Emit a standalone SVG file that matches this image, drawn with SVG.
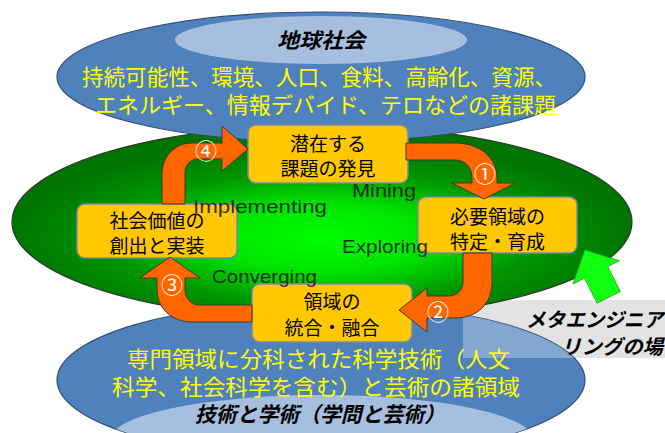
<svg xmlns="http://www.w3.org/2000/svg" width="665" height="433" viewBox="0 0 665 433">
<defs>
<radialGradient id="gg" cx="0.5" cy="0.58" r="0.5">
<stop offset="0" stop-color="#00ff00"/>
<stop offset="0.35" stop-color="#00e400"/>
<stop offset="0.68" stop-color="#009600"/>
<stop offset="1" stop-color="#007400"/>
</radialGradient>
<clipPath id="botclip"><ellipse cx="321" cy="380" rx="264" ry="78"/></clipPath>
<style>
.blue{fill:#4f81bd;stroke:#2f4f73;stroke-width:1.2}
.light{fill:#a7bfdf}
.yl{font-family:"Noto Sans CJK JP","Noto Sans",sans-serif;font-size:21.5px;fill:#ffff00;text-anchor:middle;dominant-baseline:central}
.ttl{font-family:"Noto Sans CJK JP","Noto Sans",sans-serif;font-size:21px;font-weight:bold;font-style:italic;fill:#000;text-anchor:middle;dominant-baseline:central}
.box{fill:#ffc800;stroke:#7a8aa0;stroke-width:1.5}
.bt{font-family:"Noto Sans CJK JP","Noto Sans",sans-serif;font-size:19px;fill:#000;text-anchor:middle;dominant-baseline:central}
.arr{fill:#ff6600;stroke:#3a3a3a;stroke-width:1}
.num{font-family:"Noto Sans CJK JP","DejaVu Sans",sans-serif;font-size:22px;fill:#ffffff;text-anchor:middle;dominant-baseline:central}
.lab{font-family:"Liberation Sans","Noto Sans",sans-serif;font-size:19px;fill:#1a1a1a;fill-opacity:0.9;text-anchor:start;dominant-baseline:central}
.meta{font-family:"Noto Sans CJK JP","Noto Sans",sans-serif;font-size:20px;font-weight:bold;font-style:italic;fill:#000;dominant-baseline:central}
</style>
</defs>
<rect width="665" height="433" fill="#ffffff"/>

<!-- callout background -->
<rect id="callout-bg" x="463" y="300" width="210" height="58" fill="#e3e3e3"/>

<!-- bottom ellipse -->
<g id="academia">
<ellipse class="blue" cx="321" cy="380" rx="264" ry="78"/>
<rect x="463" y="300" width="210" height="58" fill="#ffffff" fill-opacity="0.3" clip-path="url(#botclip)"/>
<ellipse class="light" cx="322" cy="440" rx="212" ry="45" clip-path="url(#botclip)"/>
<text class="yl" x="318.5" y="357" textLength="383" lengthAdjust="spacingAndGlyphs">専門領域に分科された科学技術（人文</text>
<text class="yl" x="316" y="385" textLength="408" lengthAdjust="spacingAndGlyphs">科学、社会科学を含む）と芸術の諸領域</text>
<text class="ttl" x="320" y="413" textLength="250" lengthAdjust="spacingAndGlyphs">技術と学術（学問と芸術）</text>
</g>

<!-- middle green ellipse -->
<g id="field">
<ellipse cx="322" cy="222" rx="310" ry="97" fill="url(#gg)" stroke="#2a3a2a" stroke-width="1.2"/>
</g>

<!-- top ellipse -->
<g id="society">
<ellipse class="blue" cx="321" cy="77" rx="264" ry="65"/>
<ellipse class="light" cx="321" cy="40" rx="146" ry="24"/>
<text class="ttl" x="321" y="39" textLength="88" lengthAdjust="spacingAndGlyphs">地球社会</text>
<text class="yl" x="319" y="75" textLength="474" lengthAdjust="spacingAndGlyphs">持続可能性、環境、人口、食料、高齢化、資源、</text>
<text class="yl" x="325.5" y="103" textLength="461" lengthAdjust="spacingAndGlyphs">エネルギー、情報デバイド、テロなどの諸課題</text>
</g>

<!-- nodes -->
<g id="mining">
<rect class="box" x="248" y="125" width="160" height="58" rx="8"/>
<text class="bt" x="328" y="142">潜在する</text>
<text class="bt" x="328" y="167">課題の発見</text>
</g>
<g id="exploring">
<rect class="box" x="418" y="197" width="159" height="56" rx="8"/>
<text class="bt" x="497.5" y="215">必要領域の</text>
<text class="bt" x="497.5" y="240">特定・育成</text>
</g>
<g id="converging">
<rect class="box" x="252" y="284" width="160" height="58" rx="8"/>
<text class="bt" x="332" y="300">領域の</text>
<text class="bt" x="332" y="326">統合・融合</text>
</g>
<g id="implementing">
<rect class="box" x="77" y="204" width="160" height="54" rx="8"/>
<text class="bt" x="157" y="219">社会価値の</text>
<text class="bt" x="157" y="244">創出と実装</text>
</g>

<!-- phase labels -->
<g id="labels">
<text class="lab" x="352" y="190" textLength="64" lengthAdjust="spacingAndGlyphs">Mining</text>
<text class="lab" x="193" y="206" textLength="134" lengthAdjust="spacingAndGlyphs">Implementing</text>
<text class="lab" x="342" y="246" textLength="86" lengthAdjust="spacingAndGlyphs">Exploring</text>
<text class="lab" x="212" y="276" textLength="105" lengthAdjust="spacingAndGlyphs">Converging</text>
</g>

<!-- connectors -->
<g id="connectors">
<path class="arr" d="M406,143 L455,143 C480,143 497,158 497,178 L497,183 L515,183 L484,199 L452,183 L472,183 L472,178 C472,167 465,160 455,160 L406,160 Z"/>
<text class="num" x="485" y="172">①</text>
<path class="arr" d="M463,253 L492,253 L492,282 C492,303 478,318 455,318 L427,318 L427,332 L399,310 L427,288 L427,296 L448,296 C457,296 463,290 463,282 Z"/>
<text class="num" x="438" y="310">②</text>
<path class="arr" d="M252,305 L252,322 L192,322 C172,322 157,308 157,290 L157,278 L140,278 L170,257 L200,278 L185,278 L185,290 C185,298 191,305 199,305 Z"/>
<text class="num" x="172" y="283">③</text>
<path class="arr" d="M162,204 L162,175 C162,156 175,143 192,143 L222,143 L222,126 L248,149 L222,171 L222,159 L198,159 C191,159 185,165 185,172 L185,204 Z"/>
<text class="num" x="206" y="149">④</text>
</g>

<!-- meta-engineering callout -->
<g id="meta">
<polygon points="0,0 -25,-26 -25,-13 -53,-13 -53,13 -25,13 -25,26" fill="#11ff11" stroke="#22aa22" stroke-width="0.8" transform="translate(585,250) rotate(-116.57)"/>
<text class="meta" x="526" y="318" textLength="137" lengthAdjust="spacingAndGlyphs">メタエンジニア</text>
<text class="meta" x="561" y="345" textLength="102" lengthAdjust="spacingAndGlyphs">リングの場</text>
</g>
</svg>
